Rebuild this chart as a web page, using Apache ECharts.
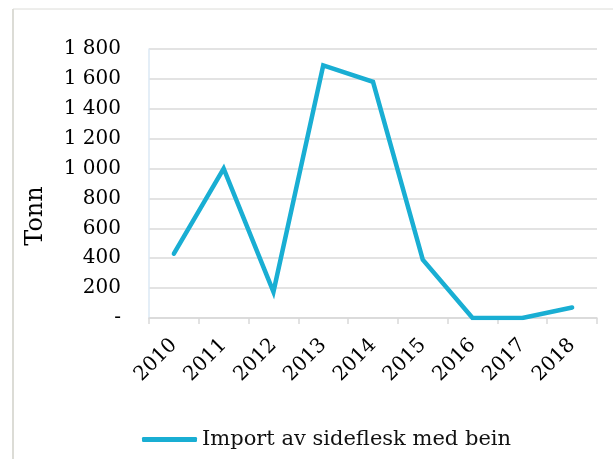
<!DOCTYPE html>
<html lang="no">
<head>
    <meta charset="UTF-8">
    <title>Import av sideflesk med bein</title>
    <script src="https://cdn.jsdelivr.net/npm/echarts@6/dist/echarts.min.js"></script>
    <style>
        html, body { margin: 0; padding: 0; background: #fff; }
        #chart { width: 613px; height: 459px; }
    </style>
</head>
<body>
    <div id="chart"></div>
    <script>
        var years = ['2010', '2011', '2012', '2013', '2014', '2015', '2016', '2017', '2018'];
        var tonn = [430, 1000, 175, 1690, 1580, 390, 0, 0, 70];
        var seriesName = 'Import av sideflesk med bein';
        var yTitle = 'Tonn';

        var font = 'DejaVu Serif';
        var chart = echarts.init(document.getElementById('chart'));
        var option = {
            backgroundColor: '#fff',
            animation: false,
            graphic: [
                { type: 'line', shape: { x1: 13, y1: 9, x2: 613, y2: 9 }, style: { stroke: '#dcdcd8', lineWidth: 1 } },
                { type: 'line', shape: { x1: 13, y1: 9, x2: 13, y2: 459 }, style: { stroke: '#dcdcd6', lineWidth: 2 } },
                // y axis title sits lower than the plot middle in the original
                {
                    type: 'text',
                    x: 36, y: 216,
                    rotation: Math.PI / 2,
                    style: {
                        text: yTitle,
                        font: '24px "DejaVu Serif"',
                        fill: '#000',
                        align: 'center',
                        verticalAlign: 'middle'
                    }
                }
            ],
            grid: {
                left: 149,
                right: 16,
                top: 49,
                bottom: 141
            },
            legend: {
                bottom: 4,
                left: 137,
                icon: 'roundRect',
                itemWidth: 55,
                itemHeight: 5,
                itemGap: 4,
                textStyle: { fontFamily: font, fontSize: 21, color: '#111' },
                data: [seriesName]
            },
            xAxis: {
                type: 'category',
                data: years,
                boundaryGap: true,
                axisLine: { lineStyle: { color: '#d9d9d9', width: 1.5 } },
                axisTick: { show: true, length: 6, lineStyle: { color: '#d9d9d9', width: 1.5 } },
                axisLabel: {
                    rotate: 45,
                    margin: 24,
                    fontFamily: font,
                    fontSize: 20,
                    color: '#000'
                }
            },
            yAxis: {
                type: 'value',
                min: 0,
                max: 1800,
                interval: 200,
                axisLine: { show: true, lineStyle: { color: '#dbe8f4', width: 1.5 } },
                axisTick: { show: false },
                splitLine: { lineStyle: { color: '#dadada', width: 1.5 } },
                axisLabel: {
                    margin: 28,
                    fontFamily: font,
                    fontSize: 20,
                    color: '#000',
                    formatter: function (v) {
                        if (v === 0) return '-';
                        return String(v).replace(/\B(?=(\d{3})+(?!\d))/g, ' ');
                    }
                }
            },
            series: [
                {
                    name: seriesName,
                    type: 'line',
                    data: tonn,
                    symbol: 'none',
                    color: '#19aed3',
                    lineStyle: { color: '#19aed3', width: 4.5, cap: 'round', join: 'miter' }
                }
            ]
        };
        chart.setOption(option);
    </script>
</body>
</html>
